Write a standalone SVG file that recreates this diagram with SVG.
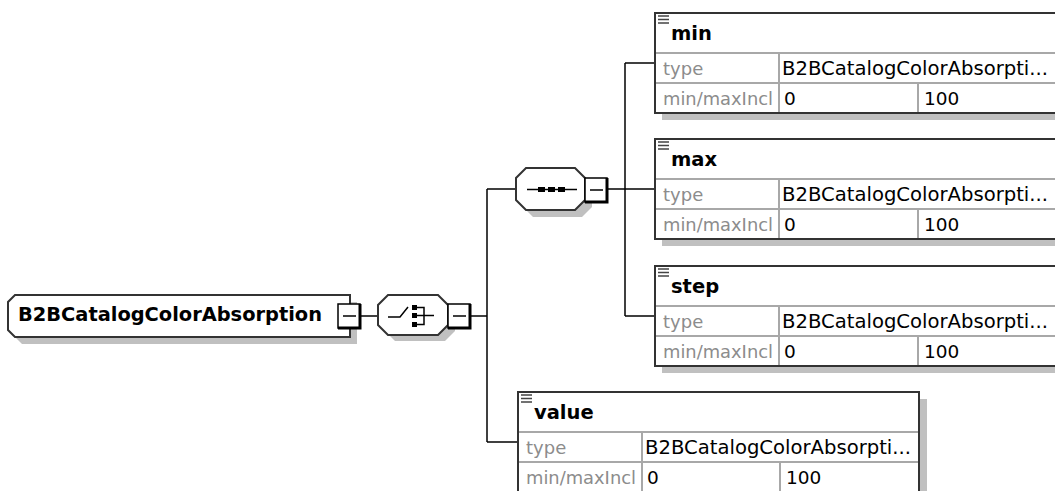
<svg xmlns="http://www.w3.org/2000/svg" xmlns:xlink="http://www.w3.org/1999/xlink" width="1055" height="491" viewBox="0 0 1055 491">
<style>
.outer{fill:#fff;stroke:#333;stroke-width:2}
.shadow{fill:#c0c0c0}
.grid{stroke:#a8a8a8;stroke-width:2;fill:none}
.conn{stroke:#000;stroke-width:1.5;fill:none}
.hdr{font-family:"DejaVu Sans",sans-serif;font-weight:bold;font-size:19.5px;fill:#000}
.lbl{font-family:"DejaVu Sans",sans-serif;font-size:18px;fill:#8c8c8c}
.val{font-family:"DejaVu Sans",sans-serif;font-size:18.5px;fill:#000}
.typ{font-family:"DejaVu Sans",sans-serif;font-size:19.5px;fill:#000}
.ln{stroke:#000;stroke-width:1.5;fill:none}
</style>
<defs>
<g id="minus">
<rect x="0" y="0" width="22" height="24" fill="#fff" stroke="#000" stroke-width="1.5"/>
<path d="M22,0 V25.5 M0,24 H23.5" stroke="#000" stroke-width="3" fill="none"/>
<path d="M5,12 H18" stroke="#000" stroke-width="1.5"/>
</g>
<g id="doc">
<path d="M3,3 H14 M3,6.5 H14 M3,10 H14" stroke="#444" stroke-width="1.6"/>
</g>
</defs>

<g id="connectors">
<path class="conn" d="M360,316 H378"/>
<path class="conn" d="M470,316 H487"/>
<path class="conn" d="M487,189 V442"/>
<path class="conn" d="M487,189 H516"/>
<path class="conn" d="M487,442 H518"/>
<path class="conn" d="M608,189 H625"/>
<path class="conn" d="M625,63 V316"/>
<path class="conn" d="M625,63 H655"/>
<path class="conn" d="M625,189 H655"/>
<path class="conn" d="M625,316 H655"/>
</g>

<g id="root">
<polygon class="shadow" points="22,302 357,302 357,344 22,344 15,337 15,309"/>
<polygon class="outer" points="15,295 350,295 350,337 15,337 8,330 8,302"/>
<text class="hdr" x="18" y="321" textLength="304" lengthAdjust="spacingAndGlyphs">B2BCatalogColorAbsorption</text>
<use xlink:href="#minus" x="338" y="304"/>
</g>

<g id="choice">
<polygon class="shadow" points="395,301 445,301 455,311 455,331 445,341 395,341 385,331 385,311"/>
<polygon class="outer" points="388,295 438,295 448,305 448,325 438,335 388,335 378,325 378,305"/>
<path class="ln" d="M388,317 H400 L408,307"/>
<rect x="412" y="305" width="5" height="5" fill="#000"/>
<rect x="412" y="313" width="5" height="5" fill="#000"/>
<rect x="412" y="322" width="5" height="5" fill="#000"/>
<path class="ln" d="M417,307.5 H424 V324.5 H417 M417,315.5 H434"/>
<use xlink:href="#minus" x="448" y="304"/>
</g>

<g id="sequence">
<polygon class="shadow" points="533,175 582,175 592,185 592,207 582,217 533,217 523,207 523,185"/>
<polygon class="outer" points="526,168 575,168 585,178 585,200 575,210 526,210 516,200 516,178"/>
<path class="ln" d="M527,189.5 H577"/>
<rect x="538" y="187" width="7" height="5" fill="#000"/>
<rect x="548" y="187" width="7" height="5" fill="#000"/>
<rect x="558" y="187" width="7" height="5" fill="#000"/>
<use xlink:href="#minus" x="585" y="178"/>
</g>

<g id="min">
<rect class="shadow" x="662" y="20" width="402" height="100"/>
<rect class="outer" x="655" y="13" width="402" height="100"/>
<path class="grid" d="M656,53 H1056 M656,83 H1056 M779,53 V112 M918,83 V112"/>
<use xlink:href="#doc" x="655" y="13"/>
<text class="hdr" x="671" y="40">min</text>
<text class="lbl" x="663" y="75">type</text>
<text class="typ" x="782" y="75" textLength="266" lengthAdjust="spacingAndGlyphs">B2BCatalogColorAbsorpti...</text>
<text class="lbl" x="663" y="105" textLength="110" lengthAdjust="spacingAndGlyphs">min/maxIncl</text>
<text class="val" x="784" y="105">0</text>
<text class="val" x="924" y="105">100</text>
</g>

<g id="max">
<rect class="shadow" x="662" y="146" width="402" height="100"/>
<rect class="outer" x="655" y="139" width="402" height="100"/>
<path class="grid" d="M656,179 H1056 M656,209 H1056 M779,179 V238 M918,209 V238"/>
<use xlink:href="#doc" x="655" y="139"/>
<text class="hdr" x="671" y="166">max</text>
<text class="lbl" x="663" y="201">type</text>
<text class="typ" x="782" y="201" textLength="266" lengthAdjust="spacingAndGlyphs">B2BCatalogColorAbsorpti...</text>
<text class="lbl" x="663" y="231" textLength="110" lengthAdjust="spacingAndGlyphs">min/maxIncl</text>
<text class="val" x="784" y="231">0</text>
<text class="val" x="924" y="231">100</text>
</g>

<g id="step">
<rect class="shadow" x="662" y="273" width="402" height="100"/>
<rect class="outer" x="655" y="266" width="402" height="100"/>
<path class="grid" d="M656,306 H1056 M656,336 H1056 M779,306 V365 M918,336 V365"/>
<use xlink:href="#doc" x="655" y="266"/>
<text class="hdr" x="671" y="293">step</text>
<text class="lbl" x="663" y="328">type</text>
<text class="typ" x="782" y="328" textLength="266" lengthAdjust="spacingAndGlyphs">B2BCatalogColorAbsorpti...</text>
<text class="lbl" x="663" y="358" textLength="110" lengthAdjust="spacingAndGlyphs">min/maxIncl</text>
<text class="val" x="784" y="358">0</text>
<text class="val" x="924" y="358">100</text>
</g>

<g id="value">
<rect class="shadow" x="525" y="399" width="402" height="100"/>
<rect class="outer" x="518" y="392" width="401" height="100"/>
<path class="grid" d="M519,432 H918 M519,462 H918 M642,432 V491 M780,462 V491"/>
<use xlink:href="#doc" x="518" y="392"/>
<text class="hdr" x="534" y="419">value</text>
<text class="lbl" x="526" y="454">type</text>
<text class="typ" x="645" y="454" textLength="266" lengthAdjust="spacingAndGlyphs">B2BCatalogColorAbsorpti...</text>
<text class="lbl" x="526" y="484" textLength="110" lengthAdjust="spacingAndGlyphs">min/maxIncl</text>
<text class="val" x="647" y="484">0</text>
<text class="val" x="786" y="484">100</text>
</g>
</svg>
